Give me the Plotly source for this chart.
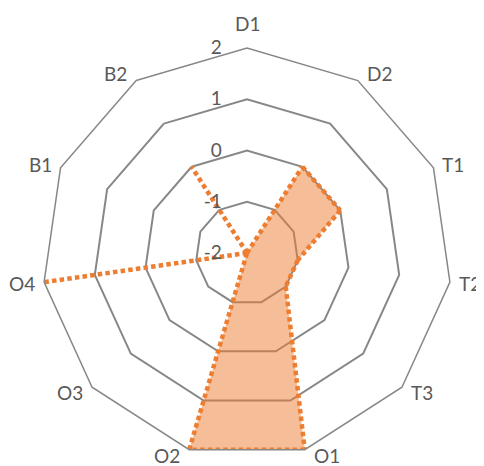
import math
import plotly.graph_objects as go

categories = ["D1", "D2", "T1", "T2", "T3", "O1", "O2", "O3", "O4", "B1", "B2"]
values = [-2, 0, 0, -1, -1, 2, 2, -2, 2, -2, 0]
radial_ticks = [-2, -1, 0, 1, 2]
radial_tick_labels = ["-2", "-1", "0", "1", "2"]
R_MIN, R_MAX = -2, 2

LINE_ORANGE = "#ED7D31"
FILL_ORANGE = "rgba(237,125,49,0.5)"
GRID_GRAY = "#878787"
TEXT_GRAY = "#595959"
FONT = "Lato, Carlito, Calibri, sans-serif"

fig = go.Figure()

# filled area (closed polygon), no outline
fig.add_trace(go.Scatterpolar(
    r=values + values[:1],
    theta=categories + categories[:1],
    mode="lines",
    line=dict(width=0, color=LINE_ORANGE),
    fill="toself",
    fillcolor=FILL_ORANGE,
    showlegend=False,
    hoverinfo="skip",
))


# dotted outline drawn segment by segment so that spikes going out and
# back along the same spoke don't overlap and smear the dot pattern
def point_key(r, th):
    return ("center",) if r == R_MIN else (r, th)


seen = set()
n = len(categories)
for i in range(n):
    j = (i + 1) % n
    a = point_key(values[i], categories[i])
    b = point_key(values[j], categories[j])
    if a == b:
        continue
    key = frozenset([a, b])
    if key in seen:
        continue
    seen.add(key)
    fig.add_trace(go.Scatterpolar(
        r=[values[i], values[j]],
        theta=[categories[i], categories[j]],
        mode="lines",
        line=dict(color=LINE_ORANGE, width=4.5, dash="4.5px,3.2px"),
        showlegend=False,
    ))

# category labels placed Excel-style: beside each outer vertex, not along the spoke
annotations = []
for i, cat in enumerate(categories):
    ang = math.radians(90 - i * 360 / n)
    c, s = math.cos(ang), math.sin(ang)
    # polar domain is square and fills the plot area -> vertex in paper coords
    px, py = 0.5 + 0.5 * c, 0.5 + 0.5 * s
    if abs(c) < 0.05:
        annotations.append(dict(x=px, y=py, xanchor="center", yanchor="middle",
                                yshift=25 if s > 0 else -25))
    else:
        annotations.append(dict(x=px, y=py,
                                xanchor="left" if c > 0 else "right",
                                yanchor="middle",
                                xshift=7 if c > 0 else -7,
                                yshift=max(8 * s, -5.5)))  # keep bottom ones on the page
    annotations[-1].update(text=cat, xref="paper", yref="paper", showarrow=False,
                           font=dict(family=FONT, size=19, color=TEXT_GRAY))

fig.update_layout(
    width=484, height=466,
    margin=dict(l=34, r=40, t=40, b=16),
    paper_bgcolor="white",
    plot_bgcolor="white",
    font=dict(family=FONT, size=19, color=TEXT_GRAY),
    annotations=annotations,
    polar=dict(
        bgcolor="white",
        gridshape="linear",
        radialaxis=dict(
            range=[R_MIN, R_MAX],
            tickvals=radial_ticks,
            ticktext=radial_tick_labels,
            angle=90,
            tickangle=90,
            side="counterclockwise",
            showline=False,
            ticks="outside",
            ticklen=18,
            tickcolor="rgba(0,0,0,0)",
            showgrid=True,
            gridcolor=GRID_GRAY,
            gridwidth=1.5,
            tickfont=dict(family=FONT, size=19, color=TEXT_GRAY),
        ),
        angularaxis=dict(
            categoryarray=categories,
            direction="clockwise",
            rotation=90,
            showgrid=False,
            showline=True,
            linecolor=GRID_GRAY,
            linewidth=1.5,
            ticks="",
            showticklabels=False,
        ),
    ),
)

fig.write_html("out.html")
